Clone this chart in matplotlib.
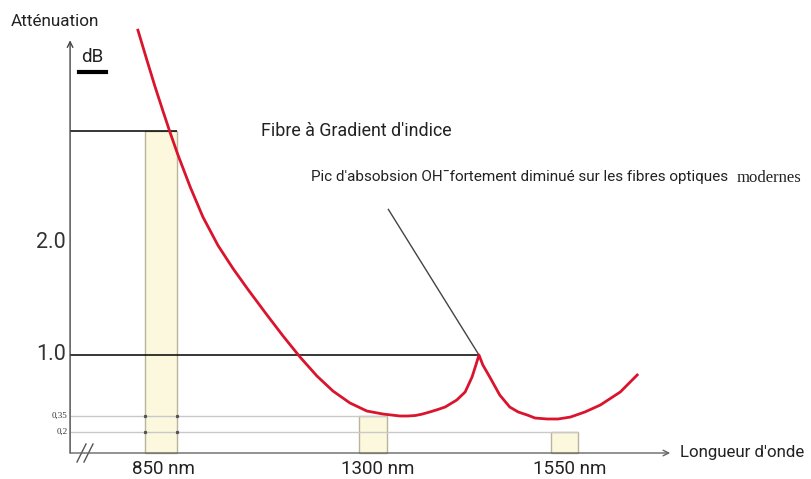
import numpy as np
import matplotlib
matplotlib.use("Agg")
import matplotlib.pyplot as plt

plt.rcParams['font.family'] = ['Roboto', 'DejaVu Sans']

# attenuation curve (wavelength in nm, attenuation in dB)
wavelength = [801, 820, 837, 854, 869, 886, 912, 939, 971, 1003, 1035, 1075, 1109,
              1145, 1181, 1215, 1251, 1287, 1313, 1335, 1345, 1355, 1364, 1374, 1384,
              1394, 1409, 1420, 1429, 1434, 1438, 1443, 1452, 1465, 1478, 1489, 1501,
              1511, 1527, 1541, 1557, 1576, 1596, 1622, 1644]
attenuation = [3.90, 3.634, 3.40, 3.18, 2.99, 2.786, 2.50, 2.232, 1.978, 1.771, 1.583, 1.357,
               1.17, 0.979, 0.776, 0.616, 0.489, 0.403, 0.371, 0.35, 0.35, 0.355, 0.37,
               0.393, 0.418, 0.446, 0.52, 0.606, 0.766, 0.894, 1.0, 0.894, 0.766, 0.574,
               0.446, 0.393, 0.36, 0.331, 0.322, 0.322, 0.34, 0.393, 0.467, 0.606, 0.787]

# transmission windows
windows = ['850 nm', '1300 nm', '1550 nm']
win_center = [850, 1300, 1550]
win_left = [816, 1270, 1532]
win_right = [884, 1318, 1567]
win_loss = [3.0, 0.35, 0.2]

big_ticks = [2.0, 1.0]
small_ticks = [0.35, 0.2]
small_labels = ['0,35', '0,2']
peak_nm, peak_db = 1438, 1.0
note_nm, note_db = 1320, 2.30
axis_nm = 657


# schematic axes: piecewise linear scales
def fx(v):
    v = np.asarray(v, dtype=float)
    return np.where(v < 1300, 373 + (v - 1300) * 0.4711, 373 + (v - 1300) * 0.768)


def fx_inv(p):
    p = np.asarray(p, dtype=float)
    return np.where(p < 373, 1300 + (p - 373) / 0.4711, 1300 + (p - 373) / 0.768)


db_knots = [-1, 0, 0.2, 0.35, 1, 2, 3, 6]
h_knots = [-74, 26, 47, 63, 124, 236, 348, 684]


def fy(v):
    return np.interp(v, db_knots, h_knots)


def fy_inv(h):
    return np.interp(h, h_knots, db_knots)


def fr(x, y):
    # pixel position in the 811x479 frame -> axes fraction
    return x / 811, 1 - y / 479


fig = plt.figure(figsize=(8.11, 4.79), dpi=100)
ax = fig.add_axes([0, 0, 1, 1])
ax.set_xscale('function', functions=(fx, fx_inv))
ax.set_yscale('function', functions=(fy, fy_inv))
ax.set_xlim(float(fx_inv(0)), float(fx_inv(811)))
ax.set_ylim(float(fy_inv(0)), float(fy_inv(479)))
ax.axis('off')

# windows
ax.bar(win_left, win_loss, width=np.array(win_right) - np.array(win_left), align='edge',
       color='#fbf8dd', edgecolor='#b9b59c', linewidth=1.0, zorder=1)

# level lines
ax.hlines(win_loss[0], axis_nm, win_right[0], color='black', lw=1.1, zorder=2)
ax.hlines(peak_db, axis_nm, peak_nm, color='black', lw=1.1, zorder=2)
ax.hlines(small_ticks[0], axis_nm, win_right[1], color='#c9c9c9', lw=1.0, zorder=2)
ax.hlines(small_ticks[1], axis_nm, win_right[2], color='#c9c9c9', lw=1.0, zorder=2)
for x in [win_left[0], win_right[0]]:
    ax.plot([x, x], small_ticks, ls='none', marker='s', ms=1.3, color='#555555', zorder=2)

# axes with arrows
ax.annotate('', xy=(axis_nm, 3.81), xytext=(axis_nm, 0),
            arrowprops=dict(arrowstyle='->', lw=1.0, color='#444444', shrinkA=0, shrinkB=0))
ax.annotate('', xy=(1687, 0), xytext=(axis_nm, 0),
            arrowprops=dict(arrowstyle='->', lw=1.0, color='#666666', shrinkA=0, shrinkB=0))

# axis break
for dx in [0, 7]:
    x0, y0 = fr(77 + dx, 462)
    x1, y1 = fr(86 + dx, 444)
    ax.plot([x0, x1], [y0, y1], transform=ax.transAxes, color='#555555', lw=1.0)

# curve
ax.plot(wavelength, attenuation, color='#d9142c', lw=2.0, zorder=4,
        solid_joinstyle='round')

# pointer to the OH peak
ax.plot([note_nm, peak_nm], [note_db, peak_db], color='#444444', lw=1.0, zorder=3)

# labels
tc = '#222222'
ax.text(*fr(11, 22), 'Atténuation', transform=ax.transAxes, fontsize=12.3, color=tc, va='center')
ax.text(*fr(92, 57), 'dB', transform=ax.transAxes, fontsize=13.5, color=tc, va='center', ha='center')
ax.plot(*zip(fr(79, 72), fr(106, 72)), transform=ax.transAxes, color='black', lw=3)
for v in big_ticks:
    ax.text(axis_nm - 9, v, f'{v:.1f}', fontsize=15.5, color='#333333', ha='right', va='center')
for v, s in zip(small_ticks, small_labels):
    ax.text(axis_nm - 6, v, s, fontsize=6.5, color='#333333', ha='right', va='center',
            family='Liberation Serif')
xt = ax.get_xaxis_transform()
for c, s in zip(win_center, windows):
    ax.text(c + 6, 1 - 469 / 479, s, transform=xt, fontsize=13.5, color=tc,
            ha='center', va='center')
ax.text(*fr(680, 452), "Longueur d'onde", transform=ax.transAxes, fontsize=12.2, color=tc,
        va='center')
ax.text(*fr(261, 131), "Fibre à Gradient d'indice", transform=ax.transAxes, fontsize=12.9,
        color=tc, va='center')
ax.text(*fr(311, 177), "Pic d'absobsion OH\u00affortement diminué sur les fibres optiques",
        transform=ax.transAxes, fontsize=11, color=tc, va='center')
ax.text(*fr(737, 178), 'modernes', transform=ax.transAxes, fontsize=12, color=tc,
        va='center', family='Liberation Serif')

fig.savefig('out.png', dpi=100)
